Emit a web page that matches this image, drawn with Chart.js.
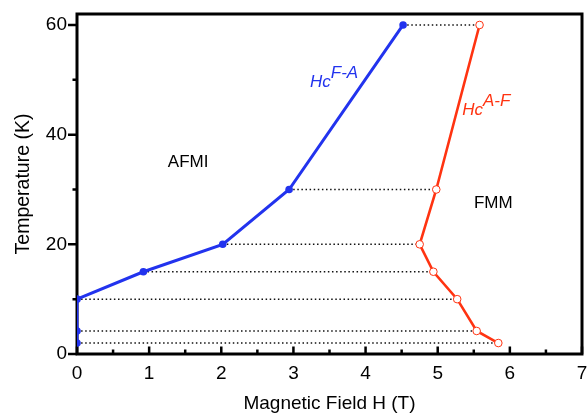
<!DOCTYPE html>
<html>
<head>
<meta charset="utf-8">
<script src="https://cdn.jsdelivr.net/npm/chart.js@4.4.1/dist/chart.umd.min.js"></script>
<style>
  html, body { margin: 0; padding: 0; background: #fff; }
  #wrap { width: 587px; height: 416px; position: relative; }
</style>
</head>
<body>
<div id="wrap"><canvas id="c"></canvas></div>
<script>
// Phase diagram: critical fields vs temperature
const temps = [2, 4.2, 10, 15, 20, 30, 60];          // K
const hcFA  = [0, 0, 0, 0.92, 2.02, 2.94, 4.52];      // T, FM -> AFM
const hcAF  = [5.84, 5.54, 5.27, 4.94, 4.75, 4.98, 5.58]; // T, AFM -> FM

const xTickValues = [0, 1, 2, 3, 4, 5, 6, 7];
const xMinorValues = [0.5, 1.5, 2.5, 3.5, 4.5, 5.5, 6.5];
const yTickValues = [0, 20, 40, 60];
const yMinorValues = [10, 30, 50];

const BLUE = '#2233ee';
const RED = '#ff3311';
const FONT = "'Liberation Sans', Arial, sans-serif";

// Horizontal tie lines joining the two transitions at each temperature
const tieSets = temps.map((t, i) => ({
  data: [{ x: hcFA[i], y: t }, { x: hcAF[i], y: t }],
  showLine: true,
  borderColor: '#111',
  borderWidth: 1.5,
  borderDash: [1.5, 2.6],
  pointRadius: 0,
  order: 5
}));

const fieldDown = {
  data: temps.map((t, i) => ({ x: hcFA[i], y: t })),
  showLine: true,
  borderColor: BLUE,
  borderWidth: 3,
  pointRadius: 3.8,
  pointBackgroundColor: BLUE,
  pointBorderColor: BLUE,
  pointBorderWidth: 0,
  order: 1
};

const fieldUp = {
  data: temps.map((t, i) => ({ x: hcAF[i], y: t })),
  showLine: true,
  borderColor: RED,
  borderWidth: 2.6,
  pointRadius: 3.8,
  pointBackgroundColor: '#ffffff',
  pointBorderColor: RED,
  pointBorderWidth: 1,
  order: 0
};

// Frame, tick marks and in-plot labels
const framePlugin = {
  id: 'frame',
  beforeDatasetsDraw(chart) {
    const { ctx, chartArea: a, scales: { x, y } } = chart;
    ctx.save();
    ctx.strokeStyle = '#000';
    ctx.lineWidth = 3;
    ctx.strokeRect(a.left, a.top, a.right - a.left, a.bottom - a.top);
    ctx.lineWidth = 2.5;
    ctx.beginPath();
    yTickValues.forEach(v => { const p = y.getPixelForValue(v); ctx.moveTo(a.left - 9, p); ctx.lineTo(a.left, p); });
    yMinorValues.forEach(v => { const p = y.getPixelForValue(v); ctx.moveTo(a.left - 4.5, p); ctx.lineTo(a.left, p); });
    xTickValues.forEach(v => { const p = x.getPixelForValue(v); ctx.moveTo(p, a.bottom); ctx.lineTo(p, a.bottom - 7.5); });
    xMinorValues.forEach(v => { const p = x.getPixelForValue(v); ctx.moveTo(p, a.bottom); ctx.lineTo(p, a.bottom - 4.5); });
    ctx.stroke();
    ctx.restore();
  },
  afterDatasetsDraw(chart) {
    const { ctx, scales: { x, y } } = chart;
    ctx.save();
    ctx.textBaseline = 'middle';
    ctx.textAlign = 'center';
    ctx.fillStyle = '#000';
    ctx.font = '17px ' + FONT;
    ctx.fillText('AFMI', x.getPixelForValue(1.54), y.getPixelForValue(34.9));
    ctx.fillText('FMM', x.getPixelForValue(5.77), y.getPixelForValue(27.4));

    const label = (main, sup, xv, yv, color) => {
      const px = x.getPixelForValue(xv), py = y.getPixelForValue(yv);
      ctx.fillStyle = color;
      ctx.textAlign = 'left';
      ctx.textBaseline = 'alphabetic';
      ctx.font = 'italic 17px ' + FONT;
      ctx.fillText(main, px, py);
      const w = ctx.measureText(main).width;
      ctx.fillText(sup, px + w, py - 9);
    };
    label('Hc', 'F-A', 3.23, 48.6, BLUE);
    label('Hc', 'A-F', 5.34, 43.6, RED);
    ctx.restore();
  }
};

new Chart(document.getElementById('c'), {
  type: 'scatter',
  data: { datasets: [fieldUp, fieldDown, ...tieSets] },
  options: {
    responsive: true,
    maintainAspectRatio: false,
    animation: false,
    layout: { padding: { top: 14, right: 5, left: 0, bottom: 0 } },
    plugins: { legend: { display: false }, tooltip: { enabled: false } },
    scales: {
      x: {
        type: 'linear',
        min: 0, max: 7,
        afterBuildTicks: s => { s.ticks = xTickValues.map(v => ({ value: v })); },
        afterFit: s => { s.height = 62; s.paddingLeft = 0; s.paddingRight = 0; },
        grid: { display: false, drawTicks: false },
        border: { display: false },
        ticks: { color: '#000', padding: 8, font: { family: FONT, size: 19 } },
        title: {
          display: true, text: 'Magnetic Field H (T)', color: '#000',
          padding: { top: 0, bottom: 1 }, font: { family: FONT, size: 19 }
        }
      },
      y: {
        type: 'linear',
        min: 0, max: 62,
        afterBuildTicks: s => { s.ticks = yTickValues.map(v => ({ value: v })); },
        afterFit: s => { s.width = 77; s.paddingTop = 0; s.paddingBottom = 0; },
        grid: { display: false, drawTicks: false },
        border: { display: false },
        ticks: { color: '#000', padding: 10, font: { family: FONT, size: 19 } },
        title: {
          display: true, text: 'Temperature (K)', color: '#000',
          padding: { top: 12, bottom: 0 }, font: { family: FONT, size: 19.5 }
        }
      }
    }
  },
  plugins: [framePlugin]
});
</script>
</body>
</html>
